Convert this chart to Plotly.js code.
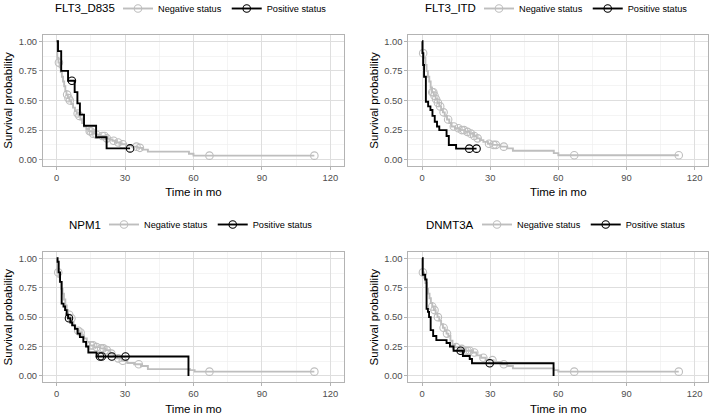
<!DOCTYPE html>
<html><head><meta charset="utf-8">
<script src="https://cdn.plot.ly/plotly-3.0.1.min.js"></script>
<style>html,body{margin:0;padding:0;background:#fff}#chart{width:709px;height:415px}</style>
</head><body><div id="chart"></div>
<script>
// ---------- data ----------
const GENES = ['FLT3_D835', 'FLT3_ITD', 'NPM1', 'DNMT3A'];
const GROUP_LABELS = ['Negative status', 'Positive status'];
const X_TICKS = [0, 30, 60, 90, 120];
const Y_TICKS = [0, 0.25, 0.5, 0.75, 1];
const X_TITLE = 'Time in mo';
const Y_TITLE = 'Survival probability';

// FLT3_D835
const d835NegTime = [0, 0.3, 0.8, 1.3, 1.8, 2.3, 2.8, 3.3, 3.8, 4.3, 4.9, 5.6, 6.4, 7.2, 8.0, 8.8, 9.6, 10.4, 11.2, 12.0, 13.0, 14.2, 15.6, 17.2, 19.2, 21.5, 23.0, 24.5, 26.0, 28.0, 30.5, 33.0, 35.5, 37.5, 40.0, 58.0, 60.0, 113];
const d835NegSurv = [1, 0.86, 0.82, 0.78, 0.74, 0.70, 0.66, 0.62, 0.58, 0.55, 0.52, 0.50, 0.47, 0.44, 0.41, 0.39, 0.37, 0.34, 0.31, 0.28, 0.26, 0.24, 0.22, 0.21, 0.20, 0.18, 0.17, 0.16, 0.145, 0.13, 0.12, 0.11, 0.10, 0.085, 0.068, 0.05, 0.034, 0.034];
const d835NegCens = [1.0, 4.6, 5.2, 5.8, 9.2, 10.0, 14.5, 15.0, 16.0, 17.5, 20.0, 21.0, 22.0, 25.0, 27.0, 29.0, 35.0, 36.5, 67, 113];
const d835PosTime = [0, 0.6, 2.0, 5.0, 7.9, 9.1, 10.2, 12.0, 17.3, 21.9, 32.2];
const d835PosSurv = [1, 0.917, 0.75, 0.667, 0.571, 0.476, 0.381, 0.286, 0.190, 0.095, 0.095];
const d835PosCens = [6.7, 32.2];

// FLT3_ITD
const itdNegTime = [0, 0.3, 0.8, 1.5, 2.0, 2.6, 3.2, 3.8, 4.4, 5.2, 6.0, 6.8, 7.6, 8.4, 9.2, 10.0, 11.0, 12.0, 13.0, 14.5, 16.5, 19.0, 21.0, 22.5, 24.0, 25.5, 27.0, 29.0, 31.0, 34.5, 37.5, 40.0, 58.0, 60.0, 113];
const itdNegSurv = [1, 0.90, 0.86, 0.80, 0.75, 0.70, 0.66, 0.61, 0.57, 0.54, 0.51, 0.48, 0.45, 0.42, 0.40, 0.37, 0.34, 0.31, 0.28, 0.265, 0.25, 0.235, 0.22, 0.20, 0.18, 0.165, 0.15, 0.135, 0.125, 0.11, 0.095, 0.075, 0.055, 0.037, 0.037];
const itdNegCens = [0.5, 4.5, 5.0, 5.5, 6.2, 7.0, 8.0, 9.5, 11.5, 14.0, 16.0, 17.5, 18.5, 20.0, 21.5, 23.0, 24.5, 29.5, 31.5, 32.5, 36.0, 67, 113];
const itdPosTime = [0, 0.2, 0.5, 0.9, 1.7, 2.7, 3.7, 4.6, 5.6, 6.6, 7.6, 10.8, 11.8, 15.0, 24.0];
const itdPosSurv = [1, 0.90, 0.80, 0.70, 0.49, 0.45, 0.42, 0.37, 0.32, 0.28, 0.25, 0.20, 0.124, 0.093, 0.093];
const itdPosCens = [20.8, 24.0];

// NPM1
const npmNegTime = [0, 0.3, 0.8, 1.4, 2.0, 2.6, 3.2, 3.8, 4.4, 5.0, 5.8, 6.6, 7.4, 8.2, 9.0, 10.0, 11.0, 12.0, 13.2, 14.6, 16.5, 19.0, 21.5, 23.5, 25.0, 26.5, 28.5, 31.0, 34.0, 37.0, 40.0, 58.5, 60.5, 113];
const npmNegSurv = [1, 0.88, 0.84, 0.80, 0.74, 0.70, 0.65, 0.60, 0.56, 0.52, 0.49, 0.46, 0.43, 0.405, 0.385, 0.37, 0.345, 0.32, 0.29, 0.26, 0.245, 0.235, 0.22, 0.19, 0.17, 0.15, 0.13, 0.11, 0.10, 0.085, 0.058, 0.05, 0.037, 0.037];
const npmNegCens = [0.7, 5.5, 6.5, 9.5, 10.5, 15.0, 16.0, 17.5, 19.5, 20.5, 22.0, 24.0, 27.0, 29.0, 36.0, 67, 113];
const npmPosTime = [0, 0.4, 0.9, 1.5, 2.2, 3.0, 3.7, 4.4, 5.0, 6.0, 6.8, 8.0, 9.2, 10.2, 11.7, 12.9, 13.9, 17.5, 57.8];
const npmPosSurv = [1, 0.97, 0.88, 0.80, 0.615, 0.59, 0.56, 0.52, 0.49, 0.455, 0.43, 0.40, 0.36, 0.33, 0.29, 0.25, 0.20, 0.165, 0];
const npmPosCens = [5.4, 19.0, 19.8, 24.2, 30.2];

// DNMT3A
const dnmNegTime = [0, 0.3, 0.9, 1.5, 2.1, 2.7, 3.3, 3.9, 4.5, 5.2, 6.0, 6.8, 7.6, 8.4, 9.2, 10.0, 10.8, 11.6, 12.5, 13.4, 14.5, 16.0, 18.5, 22.0, 24.0, 26.0, 28.0, 31.5, 35.0, 37.5, 40.0, 58.0, 60.0, 113];
const dnmNegSurv = [1, 0.88, 0.835, 0.79, 0.74, 0.70, 0.66, 0.62, 0.59, 0.56, 0.53, 0.50, 0.47, 0.44, 0.41, 0.385, 0.36, 0.34, 0.30, 0.265, 0.245, 0.23, 0.215, 0.20, 0.175, 0.155, 0.135, 0.12, 0.10, 0.085, 0.065, 0.05, 0.037, 0.037];
const dnmNegCens = [0.4, 4.5, 5.5, 7.0, 9.5, 11.0, 15.0, 17.5, 19.0, 20.0, 21.0, 23.0, 27.0, 31.0, 36.0, 67, 113];
const dnmPosTime = [0, 0.3, 1.4, 2.0, 2.6, 3.1, 3.8, 4.9, 6.3, 10.8, 12.3, 13.9, 18.0, 21.0, 22.0, 57.9];
const dnmPosSurv = [1, 0.86, 0.82, 0.57, 0.545, 0.50, 0.39, 0.34, 0.305, 0.28, 0.25, 0.215, 0.17, 0.145, 0.108, 0];
const dnmPosCens = [17.0, 29.8];

// ---------- build ----------
const COLORS = ['#BEBEBE', '#000000'];
const panels = [
  {neg: [d835NegTime, d835NegSurv, d835NegCens], pos: [d835PosTime, d835PosSurv, d835PosCens]},
  {neg: [itdNegTime, itdNegSurv, itdNegCens], pos: [itdPosTime, itdPosSurv, itdPosCens]},
  {neg: [npmNegTime, npmNegSurv, npmNegCens], pos: [npmPosTime, npmPosSurv, npmPosCens]},
  {neg: [dnmNegTime, dnmNegSurv, dnmNegCens], pos: [dnmPosTime, dnmPosSurv, dnmPosCens]}
];
function survAt(times, survs, t) {
  let v = survs[0];
  for (let i = 0; i < times.length; i++) { if (times[i] <= t) v = survs[i]; }
  return v;
}
const FONT = 'Liberation Sans, Arial, Helvetica, sans-serif';
const W = 709, H = 415;
const xDomains = [[0.0606, 0.4852], [0.576, 0.999], [0.0606, 0.4852], [0.576, 0.999]];
const yDomains = [[0.601, 0.9147], [0.601, 0.9147], [0.0798, 0.3918], [0.0798, 0.3918]];
const legendLeftPx = [118, 479, 104, 477];
const legendCenterPx = [8.5, 8.5, 224.5, 224.5];

const traces = [];
const annotations = [];
const layout = {
  width: W, height: H,
  margin: {l: 0, r: 0, t: 0, b: 0, autoexpand: false},
  paper_bgcolor: '#fff', plot_bgcolor: '#fff',
  font: {family: FONT, color: '#000'},
  showlegend: true
};

panels.forEach((p, k) => {
  const sfx = k === 0 ? '' : String(k + 1);
  const xa = 'x' + sfx, ya = 'y' + sfx;
  const lg = 'legend' + sfx;
  [p.neg, p.pos].forEach((g, gi) => {
    const [t, s, c] = g;
    traces.push({
      x: t, y: s, xaxis: xa, yaxis: ya, type: 'scatter', mode: 'lines',
      line: {shape: 'hv', color: COLORS[gi], width: 1.9},
      showlegend: false, hoverinfo: 'skip', legend: lg
    });
    traces.push({
      x: c, y: c.map(v => survAt(t, s, v)), xaxis: xa, yaxis: ya, type: 'scatter', mode: 'markers',
      marker: {symbol: 'circle-open', size: 7.5, color: COLORS[gi], line: {width: 1.1, color: COLORS[gi]}},
      showlegend: false, hoverinfo: 'skip', legend: lg
    });
  });
  [0, 1].forEach(gi => {
    traces.push({
      x: [null], y: [null], xaxis: xa, yaxis: ya, type: 'scatter', mode: 'lines+markers',
      name: GROUP_LABELS[gi], legend: lg,
      line: {color: COLORS[gi], width: 1.9},
      marker: {symbol: 'circle-open', size: 7.5, color: COLORS[gi], line: {width: 1.1, color: COLORS[gi]}}
    });
  });
  const axCommon = {
    showline: true, mirror: true, linecolor: '#B3B3B3', linewidth: 1,
    ticks: 'outside', ticklen: 3, tickwidth: 1, tickcolor: '#B3B3B3',
    tickfont: {family: FONT, size: 9.4, color: '#4D4D4D'},
    showgrid: true, gridcolor: '#DEDEDE', gridwidth: 1, zeroline: false,
    fixedrange: true, automargin: false
  };
  layout['xaxis' + sfx] = Object.assign({}, axCommon, {
    domain: xDomains[k], range: [-6, 126], anchor: ya,
    tickmode: 'array', tickvals: X_TICKS, ticktext: X_TICKS.map(String),
    minor: {tick0: 15, dtick: 30, showgrid: true, gridcolor: '#EDEDED', gridwidth: 0.6, ticks: ''},
    title: {text: X_TITLE, font: {family: FONT, size: 11.5, color: '#000'}, standoff: 6}
  });
  layout['yaxis' + sfx] = Object.assign({}, axCommon, {
    domain: yDomains[k], range: [-0.05, 1.05], anchor: xa,
    tickmode: 'array', tickvals: Y_TICKS, ticktext: Y_TICKS.map(v => v.toFixed(2)),
    minor: {tick0: 0.125, dtick: 0.25, showgrid: true, gridcolor: '#EDEDED', gridwidth: 0.6, ticks: ''},
    title: {text: Y_TITLE, font: {family: FONT, size: 11.5, color: '#000'}, standoff: 3}
  });
  const ly = 1 - legendCenterPx[k] / H;
  layout[lg] = {
    orientation: 'h', x: legendLeftPx[k] / W, xanchor: 'left', y: ly, yanchor: 'middle',
    font: {family: FONT, size: 9.2, color: '#000'}, bgcolor: 'rgba(0,0,0,0)',
    itemwidth: 30, tracegroupgap: 0
  };
  // legend title (gene name), placed just left of the legend keys
  annotations.push({
    text: GENES[k], xref: 'paper', yref: 'paper',
    x: (legendLeftPx[k] - 1) / W, xanchor: 'right', y: ly, yanchor: 'middle',
    showarrow: false, font: {family: FONT, size: 11.5, color: '#000'}
  });
});
layout.annotations = annotations;

Plotly.newPlot('chart', traces, layout, {staticPlot: true, displayModeBar: false});
</script>
</body></html>
